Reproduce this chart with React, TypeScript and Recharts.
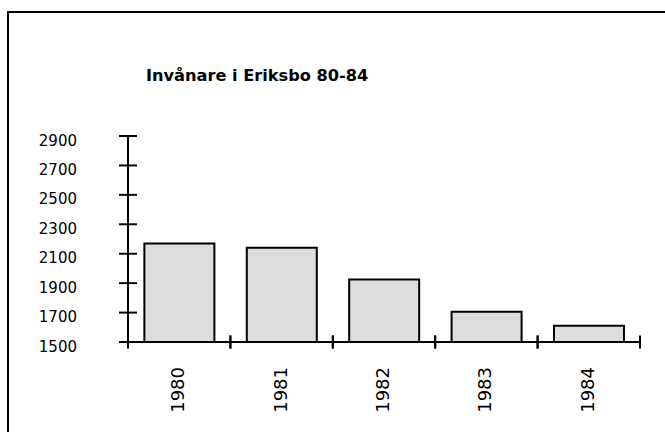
import { Bar, BarChart, XAxis, YAxis } from "recharts";

const YEARS = ["1980", "1981", "1982", "1983", "1984"];
const RESIDENTS = [2170, 2140, 1925, 1705, 1610];
const Y_TICKS = [1500, 1700, 1900, 2100, 2300, 2500, 2700, 2900];
const TITLE = "Invånare i Eriksbo 80-84";

const data = YEARS.map((year, i) => ({ year, residents: RESIDENTS[i] }));

const FONT = "'DejaVu Sans', Verdana, sans-serif";

function YTick(props: any) {
  const { x, y, payload } = props;
  return (
    <g>
      <line x1={x - 9} x2={x + 9} y1={y} y2={y} stroke="#000" strokeWidth={2} />
      <text x={x - 51} y={y + 9.5} textAnchor="end" fontSize={15} fontFamily={FONT} fill="#000">
        {payload.value}
      </text>
    </g>
  );
}

function XTick(props: any) {
  const { x, y, payload } = props;
  const half = payload.offset ?? 51.2;
  return (
    <g>
      <line x1={x - half} x2={x - half} y1={y - 6.5} y2={y + 6.5} stroke="#000" strokeWidth={2} />
      <line x1={x + half} x2={x + half} y1={y - 6.5} y2={y + 6.5} stroke="#000" strokeWidth={2} />
      <text
        transform={`translate(${x + 5}, ${y + 25}) rotate(-90)`}
        textAnchor="end"
        fontSize={18}
        fontFamily={FONT}
        fill="#000"
      >
        {payload.value}
      </text>
    </g>
  );
}

export default function App() {
  return (
    <div style={{ position: "absolute", left: 0, top: 0, width: 665, height: 432, overflow: "hidden", background: "#fff" }}>
      <BarChart
        width={665}
        height={432}
        data={data}
        margin={{ top: 136, right: 25, bottom: 30, left: 68 }}
        barCategoryGap="16%"
      >
        <XAxis
          dataKey="year"
          height={60}
          axisLine={{ stroke: "#000", strokeWidth: 2 }}
          tickLine={false}
          tickSize={0}
          tickMargin={0}
          interval={0}
          tick={<XTick />}
        />
        <YAxis
          width={60}
          domain={[1500, 2900]}
          ticks={Y_TICKS}
          axisLine={{ stroke: "#000", strokeWidth: 2 }}
          tickLine={false}
          tickSize={0}
          tickMargin={0}
          interval={0}
          tick={<YTick />}
        />
        <Bar dataKey="residents" fill="#dddddd" stroke="#000" strokeWidth={2} isAnimationActive={false} />
      </BarChart>
      <svg
        width={665}
        height={432}
        style={{ position: "absolute", left: 0, top: 0, pointerEvents: "none" }}
      >
        <line x1={7} x2={665} y1={12} y2={12} stroke="#000" strokeWidth={2} />
        <line x1={8} x2={8} y1={11} y2={432} stroke="#000" strokeWidth={2} />
        <text x={146} y={81} fontSize={16.2} fontWeight="bold" fontFamily={FONT} fill="#000">
          {TITLE}
        </text>
      </svg>
    </div>
  );
}
